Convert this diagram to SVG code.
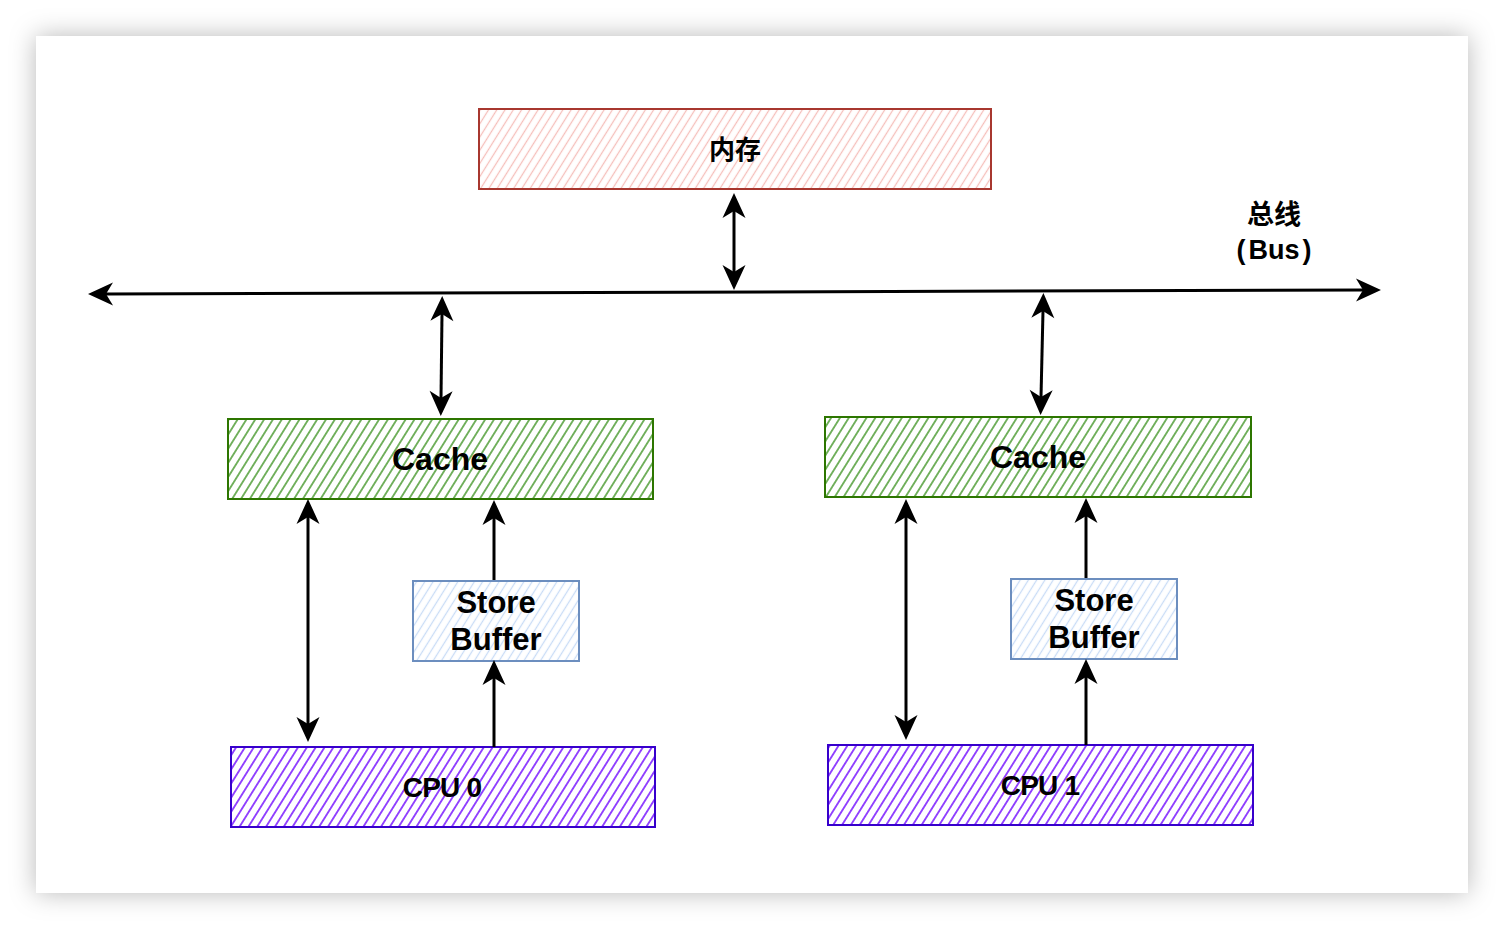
<svg xmlns="http://www.w3.org/2000/svg" width="1504" height="930" viewBox="0 0 1504 930">
<style>
.lbl{font-family:"Liberation Sans",Arial,"Noto Sans CJK SC",sans-serif;font-weight:bold;fill:#000;text-anchor:middle}
.cjk{font-family:"Noto Sans CJK SC","Liberation Sans",sans-serif;font-weight:bold;fill:#000;text-anchor:middle}
.conn{fill:none;stroke:#000;stroke-width:3}
.bi{marker-start:url(#arr);marker-end:url(#arr)}
.uni{marker-end:url(#arr)}
</style>
<defs>
<filter id="sh" x="-10%" y="-10%" width="120%" height="120%">
<feDropShadow dx="0" dy="0" stdDeviation="13" flood-color="#000" flood-opacity="0.28"/>
</filter>
<marker id="arr" viewBox="-26 -12 27 24" markerUnits="userSpaceOnUse" markerWidth="27" markerHeight="24" refX="-18" refY="0" orient="auto-start-reverse">
<path d="M0,0 L-25,-11.5 L-18,0 L-25,11.5 Z" fill="#000"/>
</marker>
<pattern id="hPink" patternUnits="userSpaceOnUse" width="7" height="7" patternTransform="rotate(32)">
<line x1="3.5" y1="0" x2="3.5" y2="7" stroke="#f5bfbb" stroke-width="1.3"/>
</pattern>
<pattern id="hGreen" patternUnits="userSpaceOnUse" width="7.5" height="7.5" patternTransform="rotate(32)">
<line x1="3.75" y1="0" x2="3.75" y2="7.5" stroke="#3f9424" stroke-width="1.4"/>
</pattern>
<pattern id="hBlue" patternUnits="userSpaceOnUse" width="7" height="7" patternTransform="rotate(32)">
<line x1="3.5" y1="0" x2="3.5" y2="7" stroke="#c9dcf6" stroke-width="1.3"/>
</pattern>
<pattern id="hPurple" patternUnits="userSpaceOnUse" width="7.5" height="7.5" patternTransform="rotate(32)">
<line x1="3.75" y1="0" x2="3.75" y2="7.5" stroke="#6a00ff" stroke-width="1.4"/>
</pattern>
</defs>
<rect x="0" y="0" width="1504" height="930" fill="#fff"/>
<rect x="36" y="36" width="1432" height="857" fill="#fff" filter="url(#sh)"/>

<g id="memory">
<rect x="479" y="109" width="512" height="80" fill="url(#hPink)" stroke="#a8372f" stroke-width="2"/>
<text class="cjk" x="735" y="159" font-size="26">内存</text>
</g>

<g id="bus-label">
<text class="cjk" x="1274" y="224" font-size="27">总线</text>
<text class="lbl" x="1274" y="259" font-size="27"><tspan>(</tspan><tspan dx="3">Bus</tspan><tspan dx="3">)</tspan></text>
</g>

<g id="cache0">
<rect x="228" y="419" width="425" height="80" fill="url(#hGreen)" stroke="#2d7600" stroke-width="2"/>
<text class="lbl" x="440" y="470" font-size="32">Cache</text>
</g>

<g id="cache1">
<rect x="825" y="417" width="426" height="80" fill="url(#hGreen)" stroke="#2d7600" stroke-width="2"/>
<text class="lbl" x="1038" y="468" font-size="32">Cache</text>
</g>

<g id="storebuffer0">
<rect x="413" y="581" width="166" height="80" fill="url(#hBlue)" stroke="#6c8ebf" stroke-width="2"/>
<text class="lbl" x="496" y="613" font-size="31">Store</text>
<text class="lbl" x="496" y="650" font-size="31">Buffer</text>
</g>

<g id="storebuffer1">
<rect x="1011" y="579" width="166" height="80" fill="url(#hBlue)" stroke="#6c8ebf" stroke-width="2"/>
<text class="lbl" x="1094" y="611" font-size="31">Store</text>
<text class="lbl" x="1094" y="648" font-size="31">Buffer</text>
</g>

<g id="cpu0">
<rect x="231" y="747" width="424" height="80" fill="url(#hPurple)" stroke="#3700cc" stroke-width="2"/>
<text class="lbl" x="442" y="797" font-size="28" letter-spacing="-0.8">CPU 0</text>
</g>

<g id="cpu1">
<rect x="828" y="745" width="425" height="80" fill="url(#hPurple)" stroke="#3700cc" stroke-width="2"/>
<text class="lbl" x="1040" y="795" font-size="28" letter-spacing="-0.8">CPU 1</text>
</g>

<g id="connectors">
<path class="conn bi" d="M106,294 L1363,290"/>
<path class="conn bi" d="M734,211 L734,272"/>
<path class="conn bi" d="M442,314 L441,398"/>
<path class="conn bi" d="M1043,311 L1041,397"/>
<path class="conn bi" d="M308,517 L308,724"/>
<path class="conn bi" d="M906,517 L906,722"/>
<path class="conn uni" d="M494,580 L494,518"/>
<path class="conn uni" d="M494,747 L494,678"/>
<path class="conn uni" d="M1086,578 L1086,516"/>
<path class="conn uni" d="M1086,745 L1086,677"/>
</g>
</svg>
